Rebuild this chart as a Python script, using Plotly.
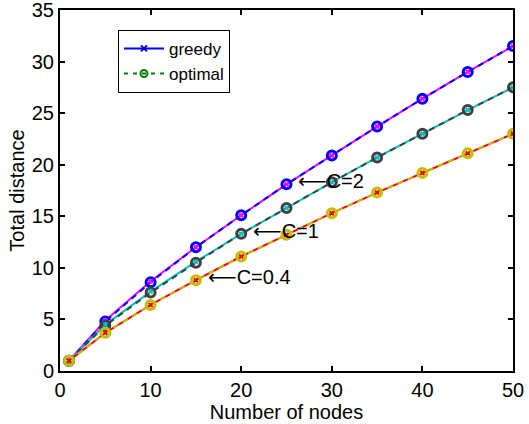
import plotly.graph_objects as go

nodes = [1, 5, 10, 15, 20, 25, 30, 35, 40, 45, 50]
c2_greedy = [1.0, 4.9, 8.7, 12.0, 15.1, 18.1, 20.9, 23.7, 26.4, 29.0, 31.5]
c2_opt = [1.0, 4.8, 8.6, 12.0, 15.1, 18.1, 20.9, 23.7, 26.4, 29.0, 31.5]
c1_greedy = [1.0, 4.5, 7.7, 10.6, 13.3, 15.8, 18.3, 20.7, 23.0, 25.3, 27.5]
c1_opt = [1.0, 4.4, 7.6, 10.5, 13.3, 15.8, 18.3, 20.7, 23.0, 25.3, 27.5]
c04_greedy = [1.0, 3.7, 6.4, 8.8, 11.1, 13.2, 15.3, 17.3, 19.2, 21.1, 23.0]
c04_opt = [1.0, 3.7, 6.4, 8.8, 11.1, 13.2, 15.3, 17.3, 19.2, 21.1, 23.0]

labels = [("C=2", 25, 18.1), ("C=1", 20, 13.3), ("C=0.4", 15, 8.8)]

font = "Liberation Sans, Arial, sans-serif"
fs = 20
fig = go.Figure()

pairs = [
    (c2_greedy, c2_opt, "#ff00ff", "#0000ff"),
    (c1_greedy, c1_opt, "#00c0c0", "#404040"),
    (c04_greedy, c04_opt, "#ff0000", "#c0c000"),
]
for g, o, gc, oc in pairs:
    fig.add_trace(go.Scatter(x=nodes, y=g, mode="lines", showlegend=False,
                             line=dict(color=gc, width=2)))
    fig.add_trace(go.Scatter(x=nodes, y=o, mode="lines+markers", showlegend=False,
                             line=dict(color=oc, width=2, dash="6px,5px"),
                             marker=dict(symbol="circle-open", size=9, color=oc, line=dict(width=3, color=oc))))
    fig.add_trace(go.Scatter(x=nodes, y=g, mode="markers", showlegend=False,
                             marker=dict(symbol="x-thin", size=4, color=gc, line=dict(width=2, color=gc))))

# legend-only entries
fig.add_trace(go.Scatter(x=[None], y=[None], mode="lines+markers", name="greedy",
                         line=dict(color="#0000ff", width=2),
                         marker=dict(symbol="x-thin", size=6, line=dict(width=2, color="#0000ff"))))
fig.add_trace(go.Scatter(x=[None], y=[None], mode="lines+markers", name="optimal",
                         line=dict(color="#008000", width=2, dash="4px,5px"),
                         marker=dict(symbol="circle-open", size=7, color="#008000", line=dict(width=2, color="#008000"))))

for text, x, y in labels:
    fig.add_annotation(x=x + 1.1, y=y + 0.3, text="<span style='font-family:DejaVu Sans'>⟵</span>" + text,
                       showarrow=False, xanchor="left", yanchor="middle",
                       font=dict(family=font, size=fs, color="black"))

axis_common = dict(showgrid=False, zeroline=False, showline=True, linecolor="black", linewidth=2,
                   mirror="allticks", ticks="inside", ticklen=5, tickwidth=1.5, tickcolor="black",
                   automargin=False, ticklabeloverflow="allow",
                   tickfont=dict(family=font, size=fs, color="black"))
fig.update_xaxes(range=[0, 50], dtick=10, title=dict(text="Number of nodes", font=dict(family=font, size=fs, color="black"), standoff=0), **axis_common)
fig.update_yaxes(range=[0, 35], dtick=5, title=dict(text="Total distance", font=dict(family=font, size=fs, color="black"), standoff=2), **axis_common)

fig.update_layout(width=529, height=424, margin=dict(l=60, r=16, t=10, b=53),
                  paper_bgcolor="white", plot_bgcolor="white",
                  legend=dict(x=0.128, y=0.945, xanchor="left", yanchor="top", bgcolor="white",
                              bordercolor="black", borderwidth=1, font=dict(family=font, size=17, color="black"),
                              tracegroupgap=0, itemwidth=40))
fig.write_html("out.html")
